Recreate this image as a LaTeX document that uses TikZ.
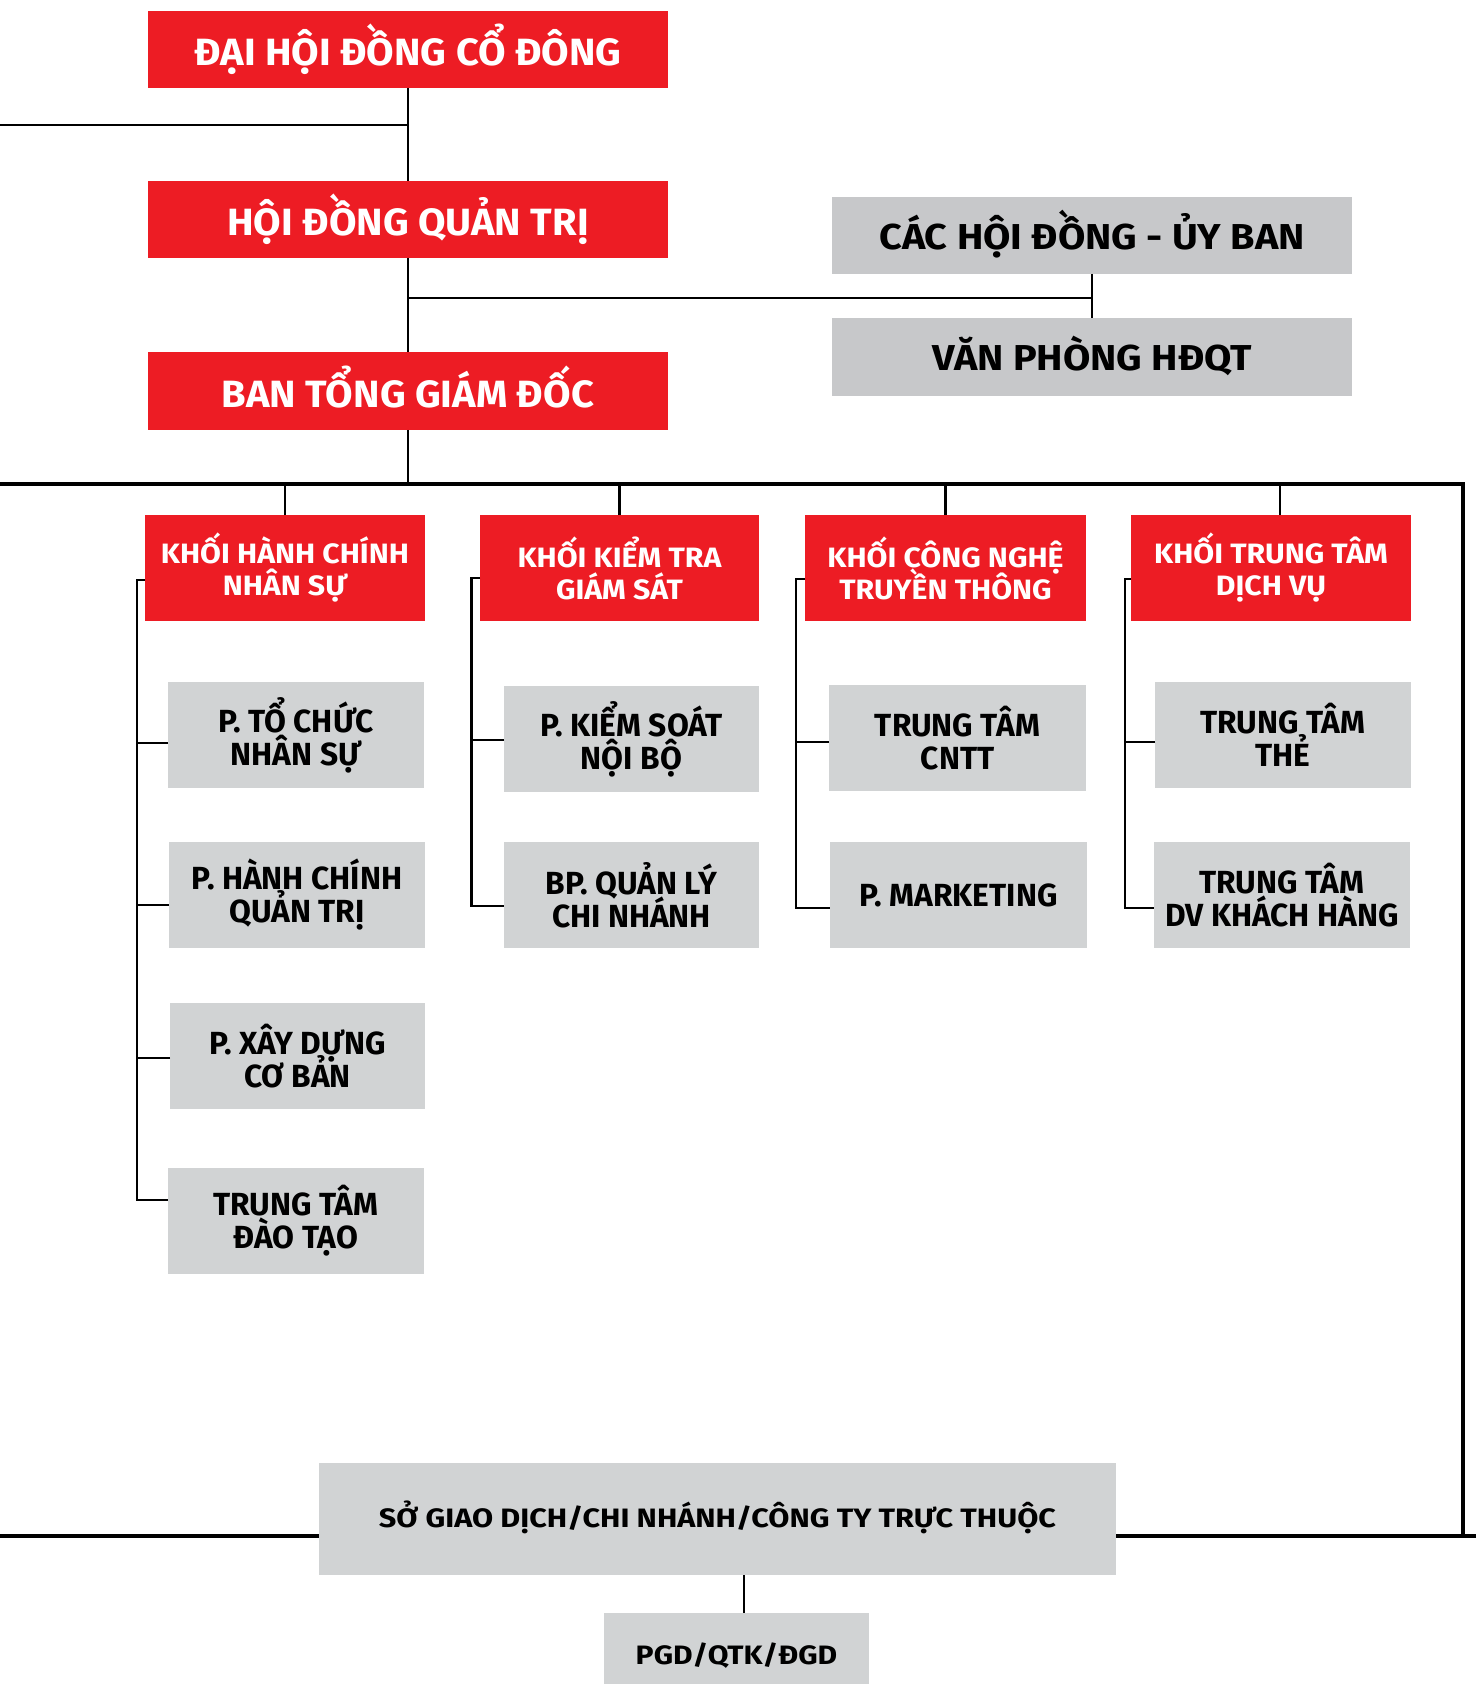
\documentclass[tikz,border=0pt]{standalone}
\usepackage{fontspec}
\setmainfont{Fira Sans}
\newfontfamily\ftop{Fira Sans}[FakeStretch=1.05]
\newfontfamily\fgrey{Fira Sans}[FakeStretch=1.1]
\newfontfamily\fkhoi{Fira Sans}[FakeStretch=1.08]
\newfontfamily\fsub{Fira Sans}[FakeStretch=0.99]
\newfontfamily\fso{Fira Sans}[FakeStretch=1.15]
\newfontfamily\fpgd{Fira Sans}[FakeStretch=1.13]
\newcommand\nolsk{\lineskiplimit=-20pt\relax}
\definecolor{vred}{HTML}{ED1C24}
\definecolor{topgray}{HTML}{C7C8CA}
\definecolor{subgray}{HTML}{D1D3D4}
\definecolor{ink}{HTML}{000000}
\newcommand\bx[7]{\node[#1, minimum width={(#5-#3)*0.5pt}, minimum height={(#6-#4)*0.5pt}] (#2) at ({(#3+#5)/2},{(#4+#6)/2}) {#7};}
\begin{document}
\begin{tikzpicture}[x=0.5pt,y=-0.5pt,
  boxbase/.style={inner sep=0pt, outer sep=0pt, align=center, draw=none},
  topred/.style={boxbase, text height=16.2pt, text depth=0pt, fill=vred, text=white, font=\ftop\fontsize{19}{21}\selectfont\bfseries},
  topgrey/.style={boxbase, text height=13.8pt, text depth=0pt, fill=topgray, text=ink, font=\fgrey\fontsize{18}{20}\selectfont\bfseries},
  khoi/.style={boxbase, fill=vred, text=white, font=\fkhoi\fontsize{14}{16}\selectfont\bfseries\nolsk},
  sub/.style={boxbase, fill=subgray, text=ink, font=\fsub\fontsize{16}{16.5}\selectfont\bfseries\nolsk},
  so/.style={boxbase, text height=8.6pt, text depth=0pt, fill=subgray, text=ink, font=\fso\fontsize{13.3}{15}\selectfont\bfseries},
  pgdst/.style={boxbase, fill=subgray, text=ink, font=\fpgd\fontsize{13.3}{15}\selectfont\bfseries},
  conn/.style={draw=black, line width=1.3pt},
  bus/.style={draw=black, line width=2pt},
  fine/.style={draw=black, line width=0.8pt}]
\useasboundingbox (0,0) rectangle (1478,1684);
\fill[white] (0,0) rectangle (1478,1684);

% coordinates for free ends
\coordinate (lft) at (0,125);
\coordinate (mid) at (0,298);
\coordinate (busL) at (0,484);
\coordinate (busR) at (1463,484);
\coordinate (botL) at (0,1536);
\coordinate (botR) at (1476,1536);

% top red boxes
\bx{topred}{dh}{148}{11}{668}{88}{ĐẠI HỘI ĐỒNG CỔ ĐÔNG}
\bx{topred}{hd}{148}{181}{668}{258}{HỘI ĐỒNG QUẢN TRỊ}
\bx{topred}{bt}{148}{352}{668}{430}{BAN TỔNG GIÁM ĐỐC}

% gray top right
\bx{topgrey}{uy}{832}{197}{1352}{274}{CÁC HỘI ĐỒNG - ỦY BAN}
\bx{topgrey}{vp}{832}{318}{1352}{396}{VĂN PHÒNG HĐQT}

% khoi boxes
\bx{khoi}{k1}{145}{515}{425}{621}{KHỐI HÀNH CHÍNH\\NHÂN SỰ}
\bx{khoi}{k2}{480}{515}{759}{621}{KHỐI KIỂM TRA\\GIÁM SÁT}
\bx{khoi}{k3}{805}{515}{1086}{621}{KHỐI CÔNG NGHỆ\\TRUYỀN THÔNG}
\bx{khoi}{k4}{1131}{515}{1411}{621}{KHỐI TRUNG TÂM\\DỊCH VỤ}

% column 1
\bx{sub}{a1}{168}{682}{424}{788}{P. TỔ CHỨC\\NHÂN SỰ}
\bx{sub}{a2}{169}{842}{425}{948}{P. HÀNH CHÍNH\\QUẢN TRỊ}
\bx{sub}{a3}{170}{1003}{425}{1109}{P. XÂY DỰNG\\CƠ BẢN}
\bx{sub}{a4}{168}{1168}{424}{1274}{TRUNG TÂM\\ĐÀO TẠO}
% column 2
\bx{sub}{b1}{504}{686}{759}{792}{P. KIỂM SOÁT\\NỘI BỘ}
\bx{sub}{b2}{504}{842}{759}{948}{BP. QUẢN LÝ\\CHI NHÁNH}
% column 3
\bx{sub}{c1}{829}{685}{1086}{791}{TRUNG TÂM\\CNTT}
\bx{sub}{c2}{830}{842}{1087}{948}{P. MARKETING}
% column 4
\bx{sub}{d1}{1155}{682}{1411}{788}{TRUNG TÂM\\THẺ}
\bx{sub}{d2}{1154}{842}{1410}{948}{TRUNG TÂM\\DV KHÁCH HÀNG}

% top connectors
\draw[conn] (dh.south) -- (hd.north);
\draw[conn] (hd.south) -- (bt.north);
\draw[conn] (lft) -- (lft -| dh.south);
\draw[conn] (mid -| hd.south) -- (mid -| uy.south);
\draw[conn] (uy.south) -- (vp.north);

% main bus
\draw[conn] (bt.south) -- (bt.south |- busL);
\draw[bus] (busL) -- (busR) -- (busR |- botR);
\draw[conn] (k1.north) -- (k1.north |- busL);
\draw[conn] (k2.north) -- (k2.north |- busL);
\draw[conn] (k3.north) -- (k3.north |- busL);
\draw[conn] ([xshift=4.5pt]k4.north) -- ([xshift=4.5pt]k4.north |- busL);

% brackets
\draw[conn] ([yshift=-6pt]k1.west) -| ([yshift=10.5pt,xshift=-15.5pt]a4.west) -- ([yshift=10.5pt]a4.west);
\draw[conn] ([yshift=-4pt]a1.west) -- ++(-15.5pt,0);
\draw[conn] ([yshift=-5pt]a2.west) -- ++(-16pt,0);
\draw[conn] ([yshift=-1pt]a3.west) -- ++(-16.5pt,0);

\draw[conn] ([yshift=-5pt]k2.west) -| ([yshift=-5.5pt,xshift=-16.2pt]b2.west) -- ([yshift=-5.5pt]b2.west);
\draw[conn] ([yshift=-0.5pt]b1.west) -- ++(-16.2pt,0);

\draw[conn] ([yshift=-5.5pt]k3.west) -| ([yshift=-6.5pt,xshift=-17pt]c2.west) -- ([yshift=-6.5pt]c2.west);
\draw[conn] ([yshift=-2pt]c1.west) -- ++(-16.5pt,0);

\draw[conn] ([yshift=-5.5pt]k4.west) -| ([yshift=-6.5pt,xshift=-14.5pt]d2.west) -- ([yshift=-6.5pt]d2.west);
\draw[conn] ([yshift=-3.5pt]d1.west) -- ++(-15pt,0);

% bottom
\bx{so}{so}{319}{1463}{1116}{1575}{SỞ GIAO DỊCH/CHI NHÁNH/CÔNG TY TRỰC THUỘC}
\bx{pgdst}{pgd}{604}{1613}{869}{1699}{PGD/QTK/ĐGD}
\draw[bus] (botL) -- (botL -| so.west);
\draw[bus] (botR) -- (botR -| so.east);
\draw[fine] (so.south -| 744,0) -- (pgd.north -| 744,0);
\end{tikzpicture}
\end{document}
